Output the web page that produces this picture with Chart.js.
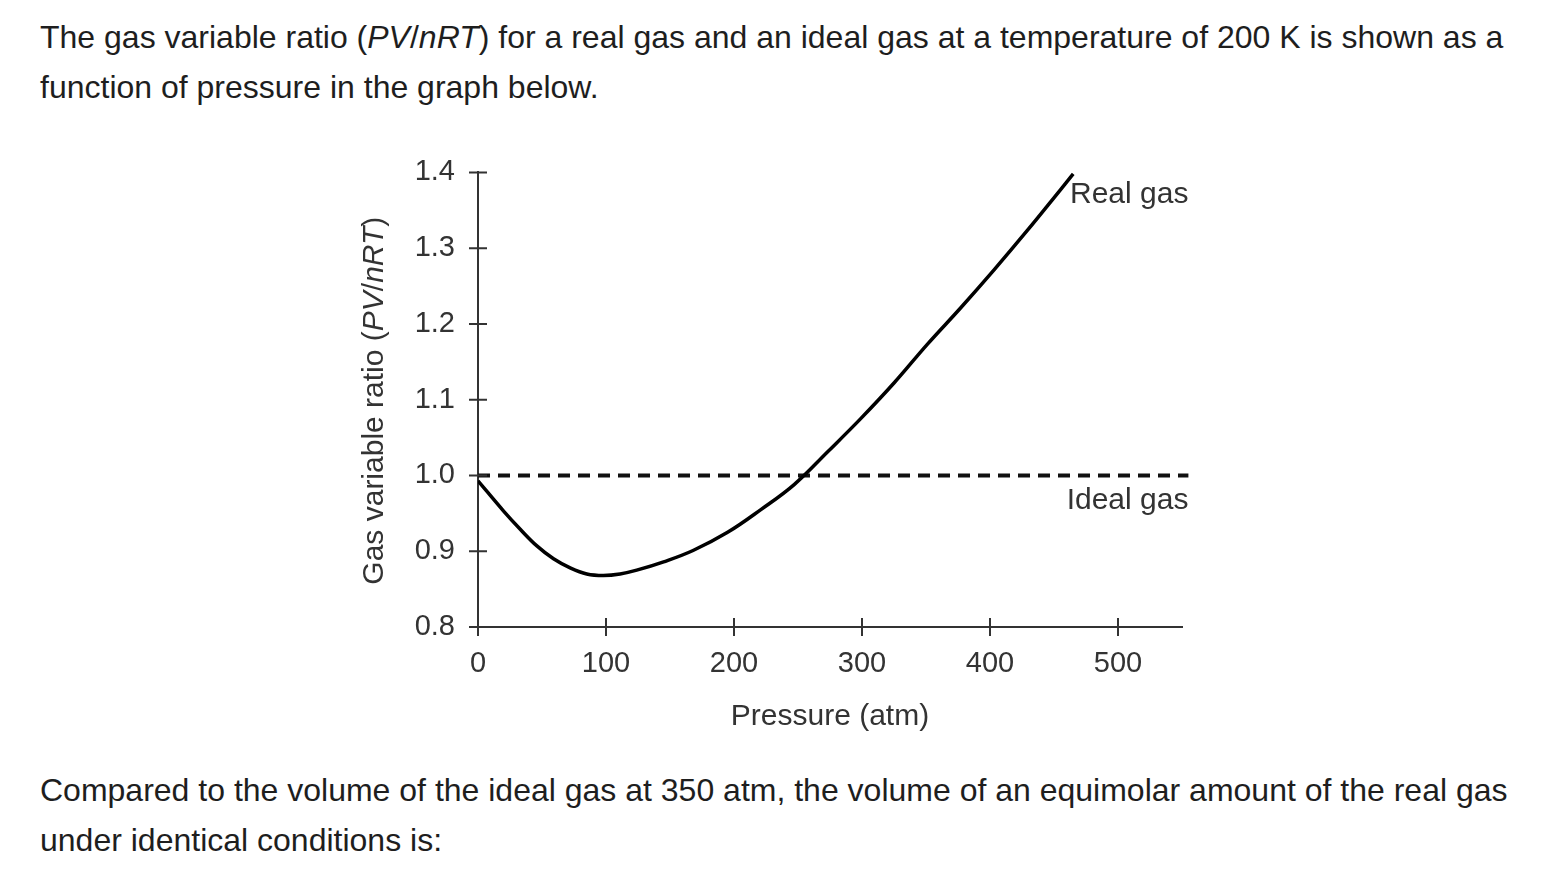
<!DOCTYPE html>
<html>
<head>
<meta charset="utf-8">
<title>Gas variable ratio</title>
<script src="https://cdn.jsdelivr.net/npm/chart.js@4.4.1/dist/chart.umd.min.js"></script>
<style>
    body {
        margin: 0;
        width: 1554px;
        height: 890px;
        position: relative;
        overflow: hidden;
        background: #fff;
        font-family: "Liberation Sans", Arial, sans-serif;
        color: #1e1e1e;
    }
    .para {
        position: absolute;
        left: 40px;
        margin: 0;
        font-size: 32px;
        line-height: 50px;
        white-space: nowrap;
    }
    #q1 { top: 12px; }
    #q2 { top: 765px; }
    #wrap {
        position: absolute;
        left: 330px;
        top: 140px;
        width: 900px;
        height: 620px;
    }
</style>
</head>
<body>
<p class="para" id="q1">The gas variable ratio (<i>PV</i>/<i>nRT</i>) for a real gas and an ideal gas at a temperature of 200 K is shown as a<br>function of pressure in the graph below.</p>
<div id="wrap"><canvas id="gasChart"></canvas></div>
<p class="para" id="q2">Compared to the volume of the ideal gas at 350 atm, the volume of an equimolar amount of the real gas<br>under identical conditions is:</p>

<script>
// values
const pressure = [0, 20, 33, 46, 59, 72, 85, 98, 111, 124, 145, 168, 195, 221, 247, 273, 299, 325, 351, 377, 403, 429, 455, 465];
const realRatio = [0.993, 0.953, 0.929, 0.907, 0.890, 0.878, 0.870, 0.868, 0.870, 0.875, 0.886, 0.901, 0.925, 0.955, 0.988, 1.031, 1.075, 1.122, 1.173, 1.221, 1.271, 1.323, 1.377, 1.398];
const idealPressure = [0, 555];
const idealRatio = [1.0, 1.0];
const xTicks = [0, 100, 200, 300, 400, 500];
const yTicks = [0.8, 0.9, 1.0, 1.1, 1.2, 1.3, 1.4];

const inkColor = '#333';
const fontFamily = '"Liberation Sans", Arial, sans-serif';
const labelFont = { family: fontFamily, size: 29 };

function toPoints(xs, ys) {
    return xs.map((x, i) => ({ x: x, y: ys[i] }));
}

// ticks that cross the axis line, like the printed graph
const crossTicks = {
    id: 'crossTicks',
    afterDraw(chart) {
        const ctx = chart.ctx;
        const xs = chart.scales.x;
        const ys = chart.scales.y;
        const x0 = xs.getPixelForValue(0);
        const y0 = ys.getPixelForValue(0.8);
        ctx.save();
        ctx.strokeStyle = inkColor;
        ctx.lineWidth = 2;
        ctx.beginPath();
        yTicks.forEach(v => {
            const py = ys.getPixelForValue(v);
            ctx.moveTo(x0 - 9, py);
            ctx.lineTo(x0 + 9, py);
        });
        xTicks.forEach(v => {
            const px = xs.getPixelForValue(v);
            ctx.moveTo(px, y0 - 9);
            ctx.lineTo(px, y0 + 9);
        });
        ctx.stroke();
        ctx.restore();
    }
};

// series names and the y title (with italic PV/nRT)
const textLabels = {
    id: 'textLabels',
    afterDraw(chart) {
        const ctx = chart.ctx;
        const xs = chart.scales.x;
        const ys = chart.scales.y;
        ctx.save();
        ctx.fillStyle = inkColor;
        ctx.font = '30px ' + fontFamily;
        ctx.textAlign = 'right';
        ctx.textBaseline = 'middle';
        ctx.fillText('Real gas', xs.getPixelForValue(555), ys.getPixelForValue(1.371));
        ctx.fillText('Ideal gas', xs.getPixelForValue(555), ys.getPixelForValue(0.966));

        const parts = [
            ['Gas variable ratio (', 'normal'],
            ['PV', 'italic'],
            ['/', 'normal'],
            ['nRT', 'italic'],
            [')', 'normal']
        ];
        let total = 0;
        parts.forEach(p => {
            ctx.font = p[1] + ' 30px ' + fontFamily;
            total += ctx.measureText(p[0]).width;
        });
        const cx = chart.chartArea.left - 103;
        const cy = (ys.getPixelForValue(1.4) + ys.getPixelForValue(0.8)) / 2 + 1;
        ctx.translate(cx, cy);
        ctx.rotate(-Math.PI / 2);
        ctx.textAlign = 'left';
        let pos = -total / 2;
        parts.forEach(p => {
            ctx.font = p[1] + ' 30px ' + fontFamily;
            ctx.fillText(p[0], pos, 0);
            pos += ctx.measureText(p[0]).width;
        });
        ctx.restore();
    }
};

new Chart(document.getElementById('gasChart'), {
    type: 'line',
    data: {
        datasets: [
            {
                label: 'Real gas',
                data: toPoints(pressure, realRatio),
                borderColor: '#000',
                borderWidth: 3.5,
                pointRadius: 0,
                tension: 0.4,
                fill: false
            },
            {
                label: 'Ideal gas',
                data: toPoints(idealPressure, idealRatio),
                borderColor: '#111',
                borderWidth: 4,
                borderDash: [12, 8],
                pointRadius: 0,
                clip: false,
                fill: false
            }
        ]
    },
    options: {
        responsive: true,
        maintainAspectRatio: false,
        animation: false,
        layout: { padding: { top: 12, right: 48, left: 0, bottom: 0 } },
        plugins: {
            legend: { display: false },
            tooltip: { enabled: false }
        },
        scales: {
            x: {
                type: 'linear',
                min: 0,
                max: 550,
                afterBuildTicks: s => { s.ticks = xTicks.map(v => ({ value: v })); },
                afterFit: s => { s.height = 133; },
                grid: { display: false },
                border: { display: true, color: inkColor, width: 2 },
                ticks: { color: inkColor, font: labelFont, padding: 12, maxRotation: 0 },
                title: {
                    display: true,
                    text: 'Pressure (atm)',
                    color: inkColor,
                    font: { family: fontFamily, size: 30 },
                    padding: { top: 0, bottom: 25 }
                }
            },
            y: {
                type: 'linear',
                min: 0.8,
                max: 1.4,
                afterBuildTicks: s => { s.ticks = yTicks.map(v => ({ value: v })); },
                afterFit: s => { s.width = 148; },
                grid: { display: false },
                border: { display: true, color: inkColor, width: 2 },
                ticks: {
                    color: inkColor,
                    font: labelFont,
                    padding: 15,
                    callback: v => v.toFixed(1)
                }
            }
        }
    },
    plugins: [crossTicks, textLabels]
});
</script>
</body>
</html>
